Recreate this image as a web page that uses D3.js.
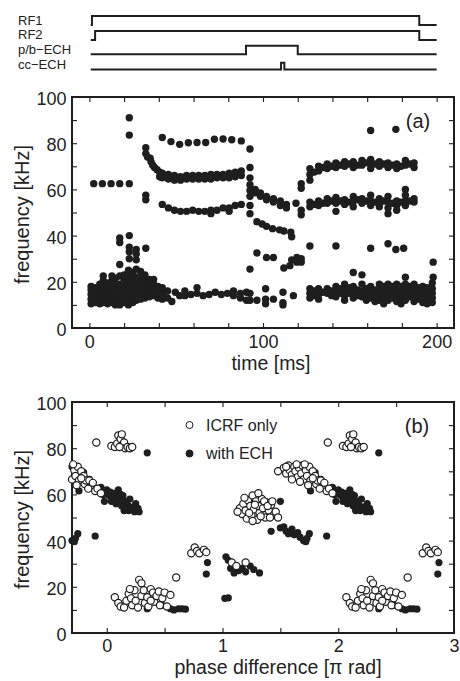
<!DOCTYPE html>
<html><head><meta charset="utf-8">
<script src="https://cdn.jsdelivr.net/npm/d3@7"></script>
<style>
body{margin:0;background:#fff}
svg{display:block}
text{font-family:"Liberation Sans",Arial,Helvetica,sans-serif;fill:#222}
</style>
</head><body>
<svg id="c" width="460" height="681"></svg>
<script>
// ---------- timing diagram (time in ms, state 0/1) ----------
const timingLabels = ["RF1", "RF2", "p/b\u2212ECH", "cc\u2212ECH"];
const rf1 = [[0.8,0],[1.5,1],[190,0],[200,0]];
const rf2 = [[0.8,0],[3.3,1],[190,0],[200,0]];
const pbEch = [[0.8,0],[90.2,1],[120,0],[200,0]];
const ccEch = [[0.8,0],[110.4,1],[112.3,0],[200,0]];

// ---------- panel (a): [time ms, frequency kHz] ----------
const a62 = [[2.5,62.5],[7.5,62.5],[12.5,62.5],[17.5,62.5],[23,62.5],[23,83.5],[23,91]];
const aEarlyLow = [
[1,10.5],[1,12.5],[1,14.5],[1,16.5],[1,18],
[3.5,11],[3.5,13],[3.5,15.5],[3.5,17.5],
[6,10.5],[6,12.5],[6,14.5],[6,16.5],[6,19],
[8,11],[8,13.5],[8,16],[8,18],[8,20.5],[8,22.5],
[10.5,10.5],[10.5,12.5],[10.5,15],[10.5,17],[10.5,19.5],
[13,11],[13,13],[13,15.5],[13,18],[13,20.5],[13,22.5],
[15,10],[15,12.5],[15,14.5],[15,17],[15,19],[15,21.5],
[17.5,10],[17.5,12],[17.5,14],[17.5,16.5],[17.5,19],[17.5,22.5],
[20,11],[20,13.5],[20,16],[20,18],[20,20.5],[20,23],
[22.5,10],[22.5,12.5],[22.5,15],[22.5,17.5],[22.5,20],[22.5,22.5],
[25,11],[25,13.5],[25,16],[25,18.5],[25,21],[25,24],
[27,12],[27,14.5],[27,17],[27,19.5],[27,22],
[29.5,12.5],[29.5,15],[29.5,17.5],[29.5,20],[29.5,22.5],[29.5,24.5],
[32,13],[32,15.5],[32,18],[32,20.5],[32,23],
[34.5,13.5],[34.5,16],[34.5,18.5],[34.5,21],
[37,14],[37,16.5],[37,19],[37,21],
[39.5,13],[39.5,15.5],[39.5,18]
];
const aEarlyMid = [[17.5,27.5],[17.5,37],[17.5,39],[22.5,25],[23,30],[23,33],[23,35],[23,40],
[27,25.5],[27,29.5],[27,32],[27,34],[32.5,34.5],[32.5,55.5],[32.5,57.5]];
const aRamp = [[32.5,78],[32.5,75.5],[33.5,74],[35,73.5],[35.5,72],[36.5,70.5],[37.5,69.5],[39,68.5],[40.5,67.5],[40.5,65.5]];
const a80 = [[42,82.5],[47,80.7],[52,79.5],[57,80.2],[62,80.3],[67,80.3],[72,81.7],[77,81.8],[82,81.5],[87.5,81]];
const a66 = [[42,67],[42,65],[45.5,66.5],[45.5,64.5],[49,66],[49,64],[52.5,65.5],[52.5,64],[56,66],[56,64.5],
[59.5,66],[59.5,64.5],[63,66],[63,64.5],[66.5,66],[66.5,64.5],[70,66.5],[70,64.5],[73.5,66.5],[73.5,65],
[77,66.5],[77,65],[80.5,67],[80.5,65],[84,67.5],[84,65.5],[87.5,68],[87.5,66]];
const a52 = [[42,53.5],[45.5,52],[49,51],[52.5,50.5],[56,50.5],[59.5,51],[63,50.5],[66.5,50.5],[70,51],
[73.5,51],[77,52],[80.5,52],[84,53],[87.5,53.5],[70,49.5],[80.5,50.5]];
const aMidLow = [[42,17.5],[42,14.5],[42,12.5],[45,16],[45,13],[47.5,11.5],[49.5,15.5],[52,14],[55,16],[55,14],
[58.5,14.5],[62,17.5],[62,15],[65.5,14],[69,14.5],[72.5,15.5],[76,14.5],[79.5,15],[83,16],[83,14],
[87,15],[87,13],[90.5,15.5],[90.5,12]];
const aTransition = [
[92.5,77.5],[92.5,69.5],[92.5,65],[92.5,62],[92.5,59.5],[92.5,57],[92.5,53],[92.5,49.5],[92.5,25.5],[92.5,15],[92.5,12],
[95.5,60],[95.5,58.5],[96.5,46],[96.5,32.5],[96.5,12],
[98.5,58.5],[98.5,57],[99.5,45],[102,57],[102,55.5],[102,44],[102,30.5],[101.5,17],[101.5,12.5],[101.5,10.5],
[106,56],[106,54.5],[105.5,43],[106,30.5],[106,12.5],
[110,55],[110,53],[109.5,42.5],[112,42],[112,26],[111.5,15.5],[111.5,11],[111.5,10],
[113.5,53.5],[113.5,52],[116,41.5],[116.5,39.5],[115.5,27],[116.5,29.5],[117.5,14],
[119,54],[119.5,30.5],[119.5,28.5],
[122,62.5],[122,60.5],[122,51],[122,49],[122,30],[122,28.5]
];
const a70 = [[127,69],[127,66.5],[127,64],[129.5,67.5],[132,70],[132,68],[134.5,69.5],[137,71],[137,69],[139.5,70],
[142,71.5],[142,69.5],[144.5,70.5],[147,72],[147,70],[149.5,71],[152,72],[152,69.5],[154.5,70.5],[157,72.5],[157,70.5],
[159.5,71.5],[162,73],[162,71],[162,69],[164.5,71],[167,72],[167,70],[169.5,71],[172,71.5],[172,69.5],[174.5,70.5],
[177,71],[177,69],[179.5,70],[182,72.5],[182,70.5],[184.5,71],[187,71.5],[187,69.5]];
const a55 = [[127,54.5],[127,52.5],[129.5,53.5],[132,55],[132,53],[134.5,54],[137,56],[137,54],[139.5,55],
[142,56.5],[142,54],[142,50.5],[144.5,55],[147,55.5],[147,53.5],[149.5,54.5],[152,57],[152,55],[152,52.5],
[154.5,55.5],[157,56],[157,54],[159.5,55],[162,57.5],[162,55],[162,53],[164.5,54.5],[167,56],[167,54],[167,52.5],
[169.5,55],[172,57],[172,54.5],[172,52],[172,49.5],[174.5,54],[177,55],[177,53],[177,51],[179.5,54.5],
[182,60],[182,57.5],[182,55],[182,53],[184.5,55],[187,56],[187,54.5]];
const aRightLow = [
[127,17],[127,15],[127,13],[129.5,16],[129.5,14],[132,17],[132,14.5],[132,12.5],[134.5,15.5],
[137,17],[137,15],[139.5,16],[139.5,14],[142,18],[142,15.5],[142,13.5],[144.5,17],[144.5,15],
[147,19],[147,16.5],[147,14],[147,12],[149.5,17.5],[149.5,15],[152,18],[152,15.5],[152,13],
[154.5,16.5],[154.5,14],[157,19],[157,16],[157,13.5],[159.5,17],[159.5,14.5],[159.5,12],
[162,18],[162,15.5],[162,13],[164.5,16.5],[164.5,14],[164.5,11.5],[167,19],[167,17],[167,14.5],[167,12],
[169.5,18],[169.5,15.5],[169.5,13],[169.5,10.5],[172,19],[172,17],[172,14.5],[172,12],
[174.5,18],[174.5,15.5],[174.5,13],[177,19],[177,16.5],[177,14],[177,11.5],
[179.5,18],[179.5,15.5],[179.5,13],[179.5,10.5],[182,19],[182,17],[182,14.5],[182,12],
[184.5,18],[184.5,16],[184.5,13.5],[187,19],[187,16.5],[187,14],[187,11.5],
[189.5,17.5],[189.5,15],[189.5,12.5],[192,18],[192,16],[192,13.5],[192,11],
[194.5,17.5],[194.5,15],[194.5,12.5],[194.5,10.5],
[197.5,19.5],[197.5,17],[197.5,15],[197.5,13],[197.5,11]];
const aScatter = [[127,35.5],[142,35.5],[162,34.5],[172,36.5],[176.5,34],[181,34.5],[162,85.5],[176.5,86],
[152,24],[157,23],[182,22],[198,28.5],[198,22]];

// ---------- panel (b): [phase (pi rad), frequency kHz], one 2-pi period ----------
const bOpen = [
[0.04,81],[0.07,80.5],[0.09,82],[0.1,85.5],[0.12,84],[0.13,86],[0.14,81.5],[0.15,82.5],[0.16,80],[0.18,80.5],[0.2,80],[0.22,80.5],[0.11,80.5],
[1.91,82.5],
[1.48,70],[1.53,71.5],[1.55,69],[1.57,72.5],[1.58,70.5],[1.6,68.5],[1.62,72],[1.63,70],[1.65,67.5],[1.66,71.5],[1.68,69],[1.69,72.5],
[1.7,66.5],[1.72,70.5],[1.73,68],[1.75,72],[1.76,66],[1.78,70],[1.8,68],[1.81,64.5],[1.82,66],[1.85,66],[1.86,63],[1.88,65],
[1.9,61.5],[1.92,62.5],[1.95,60.5],[1.6,66.5],[1.67,65.5],[1.74,64],[1.55,72],[1.64,73],[1.71,73],[1.78,67],[1.84,62.5],
[0.07,15.5],[0.1,13],[0.12,11.5],[0.15,11],[0.17,14],[0.19,17],[0.21,15],[0.22,12],[0.24,18.5],[0.25,14],[0.27,11],[0.28,23],
[0.3,21.5],[0.3,16],[0.32,18.5],[0.33,13],[0.35,15.5],[0.36,11.5],[0.38,19],[0.4,17.5],[0.41,13.5],[0.43,16],[0.45,18],
[0.46,12],[0.48,15],[0.5,17.5],[0.52,11.5],[0.55,16.5],[0.2,19],[0.38,14],
[0.6,24],
[0.73,34.5],[0.76,37],[0.78,35.5],[0.8,34.5],[0.84,36],[0.86,35],
[1.08,30.5],[1.12,29],[1.2,30.5],
[1.15,54],[1.17,51.5],[1.18,56],[1.2,53],[1.21,49.5],[1.22,57.5],[1.24,55],[1.25,51],[1.26,59.5],[1.27,53.5],[1.29,57],
[1.3,49],[1.31,55],[1.32,52],[1.34,58],[1.35,54],[1.37,50],[1.38,56.5],[1.4,53],[1.42,55.5],[1.44,51],[1.46,52.5],
[1.48,50],[1.23,52],[1.33,50.5],[1.36,57],[1.13,52.5],[1.19,58.5],[1.28,55.5],[1.31,60.5],[1.39,55],[1.43,57],[1.26,48.5],[1.41,50]
];
const bFilled = [
[0.35,78],
[1.95,63],[1.97,60],[1.98,57],[0.0,62],[0.02,59.5],[0.03,61],[0.05,58],[0.06,60.5],[0.08,56],[0.09,59],[0.1,62],
[0.11,57.5],[0.13,55],[0.14,59.5],[0.15,53],[0.16,57],[0.18,55.5],[0.19,53],[0.2,58],[0.22,54.5],[0.24,52.5],
[0.25,56],[0.27,54],[0.28,52.5],[0.04,57],[0.12,60],
[1.7,72],[1.8,69.5],[1.76,61.5],[1.85,66.5],
[1.42,44],[1.5,45.5],[1.53,46],[1.55,44],[1.57,43],[1.6,45],[1.62,42.5],[1.65,43.5],[1.67,41.5],[1.7,40],[1.72,39.5],
[1.75,43],[1.73,41],
[1.5,57],[1.9,42],
[0.35,10.5],[0.48,12],[0.55,10.5],[0.58,10],[0.62,10.5],[0.65,10.5],[0.68,10.3],
[0.87,30.5],[0.86,25.5],
[1.02,15],[1.05,15.2],
[1.03,33],[1.05,31.5],[1.07,28],[1.1,26],[1.14,27],[1.2,26.5],[1.24,29],[1.27,27.5],[1.32,26],[1.17,28]
];
const legendItems = ["ICRF only", "with ECH"];

// ---------- drawing ----------
const svg = d3.select("#c");
const ink = "#1e1e1e";

const xA = d3.scaleLinear().domain([-10, 210]).range([72, 454]);
const yA = d3.scaleLinear().domain([0, 100]).range([328, 97]);
const xB = d3.scaleLinear().domain([-0.3, 3]).range([72, 454]);
const yB = d3.scaleLinear().domain([0, 100]).range([633, 402]);

// timing diagram
const levels = [[16, 25], [31, 40], [45.7, 54.3], [62.7, 69.5]]; // [high, low] y positions
const baselines = [24.5, 39, 54.2, 69];
[rf1, rf2, pbEch, ccEch].forEach((s, i) => {
  const line = d3.line().x(d => xA(d[0])).y(d => d[1] ? levels[i][0] : levels[i][1]).curve(d3.curveStepAfter);
  svg.append("path").attr("d", line(s)).attr("fill", "none").attr("stroke", ink).attr("stroke-width", 2);
  svg.append("text").attr("x", 18).attr("y", baselines[i]).attr("font-size", 13).text(timingLabels[i]);
});

function frame(x, y, xTicks, xLabelFmt, yTicks, pad) {
  const [x0, x1] = x.range(), [y0, y1] = y.range();
  const g = svg.append("g");
  g.append("g").attr("transform", `translate(0,${y0})`)
    .call(d3.axisBottom(x).tickValues(xTicks).tickSizeInner(-5).tickSizeOuter(0).tickPadding(pad).tickFormat(xLabelFmt));
  g.append("g").attr("transform", `translate(0,${y1})`)
    .call(d3.axisTop(x).tickValues(xTicks).tickSizeInner(-5).tickSizeOuter(0).tickFormat(""));
  const left = g.append("g").attr("transform", `translate(${x0},0)`)
    .call(d3.axisLeft(y).tickValues(yTicks).tickSizeInner(-5).tickSizeOuter(0).tickPadding(5.5).tickFormat(d => d % 20 === 0 ? d : ""));
  g.append("g").attr("transform", `translate(${x1},0)`)
    .call(d3.axisRight(y).tickValues(yTicks).tickSizeInner(-5).tickSizeOuter(0).tickFormat(""));
  g.selectAll(".domain").remove();
  g.selectAll(".tick line").attr("stroke", ink).attr("stroke-width", 1.1);
  g.selectAll(".tick text").attr("font-size", 18).attr("font-family", "'Liberation Sans',Arial,sans-serif").attr("fill", "#222");
  left.selectAll(".tick text").attr("dy", "0.42em");
  g.append("rect").attr("x", x0).attr("y", y1).attr("width", x1 - x0).attr("height", y0 - y1)
    .attr("fill", "none").attr("stroke", ink).attr("stroke-width", 2);
}

// panel (a)
frame(xA, yA, d3.range(0, 201, 20), d => d % 100 === 0 ? d : "", d3.range(0, 101, 10), 7);
const aAll = [].concat(aEarlyLow, aEarlyMid, a62, aRamp, a80, a66, a52, aMidLow, aTransition, a70, a55, aRightLow, aScatter);
svg.append("g").selectAll("circle").data(aAll).join("circle")
  .attr("cx", d => xA(d[0])).attr("cy", d => yA(d[1])).attr("r", 3.7).attr("fill", ink);
svg.append("text").attr("x", 418).attr("y", 128).attr("font-size", 20).attr("text-anchor", "middle").text("(a)");
svg.append("text").attr("x", 271).attr("y", 370).attr("font-size", 19.5).attr("text-anchor", "middle").text("time [ms]");
svg.append("text").attr("transform", `translate(29,${(yA.range()[0] + yA.range()[1]) / 2 + 2}) rotate(-90)`)
  .attr("font-size", 20).attr("text-anchor", "middle").text("frequency [kHz]");

// panel (b)
frame(xB, yB, d3.range(0, 3.01, 0.5), d => Number.isInteger(d) ? d : "", d3.range(0, 101, 10), 6);
// phase is periodic (2 pi): each measured point is shown at every copy inside the axis range
const [pMin, pMax] = xB.domain();
const wrap = pts => pts.flatMap(d => [-2, 0, 2].map(k => [d[0] + k, d[1]])).filter(d => d[0] >= pMin - 0.005 && d[0] <= pMax - 0.01);
svg.append("g").selectAll("circle").data(wrap(bFilled)).join("circle")
  .attr("cx", d => xB(d[0])).attr("cy", d => yB(d[1])).attr("r", 3.6).attr("fill", ink);
svg.append("g").selectAll("circle").data(wrap(bOpen)).join("circle")
  .attr("cx", d => xB(d[0])).attr("cy", d => yB(d[1])).attr("r", 3.6).attr("fill", "#fff").attr("stroke", ink).attr("stroke-width", 1.2);
// legend
const leg = svg.append("g");
legendItems.forEach((t, i) => {
  const cy = 425 + i * 28.5;
  leg.append("circle").attr("cx", 189.5).attr("cy", cy).attr("r", 3.5)
    .attr("fill", i === 0 ? "#fff" : ink).attr("stroke", ink).attr("stroke-width", 1);
  leg.append("text").attr("x", 206).attr("y", cy + 5.5).attr("font-size", 16).text(t);
});
svg.append("text").attr("x", 417).attr("y", 433).attr("font-size", 20).attr("text-anchor", "middle").text("(b)");
svg.append("text").attr("x", 278).attr("y", 674).attr("font-size", 19.5).attr("text-anchor", "middle").text("phase difference [\u03c0 rad]");
svg.append("text").attr("transform", `translate(29,${(yB.range()[0] + yB.range()[1]) / 2 + 2}) rotate(-90)`)
  .attr("font-size", 20).attr("text-anchor", "middle").text("frequency [kHz]");
</script>
</body></html>
